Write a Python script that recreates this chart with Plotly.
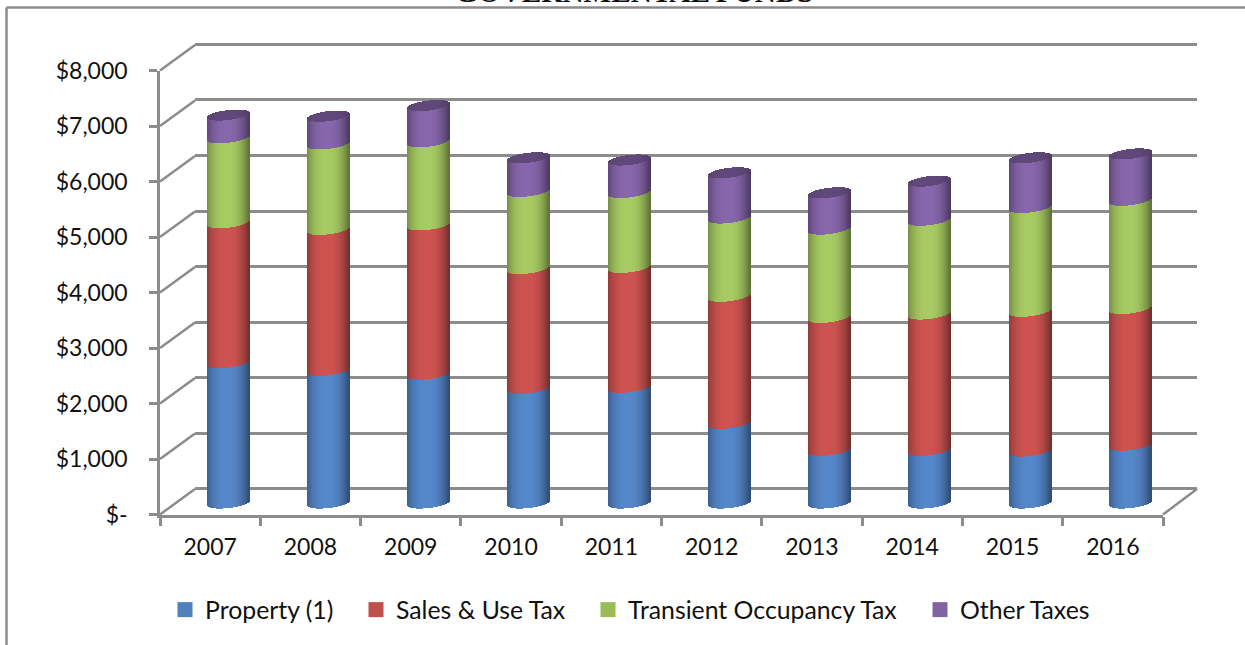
import math
import plotly.graph_objects as go

# ---- data ($ thousands) ----
years = ["2007", "2008", "2009", "2010", "2011", "2012", "2013", "2014", "2015", "2016"]
property_tax = [2530, 2390, 2320, 2065, 2085, 1435, 950, 950, 935, 1040]
sales_use_tax = [2520, 2540, 2690, 2160, 2160, 2290, 2395, 2455, 2520, 2465]
transient_tax = [1530, 1540, 1500, 1390, 1350, 1410, 1590, 1690, 1870, 1950]
other_taxes = [410, 500, 650, 605, 585, 815, 655, 705, 895, 835]
series_names = ["Property (1)", "Sales & Use Tax", "Transient Occupancy Tax", "Other Taxes"]
tick_values = [0, 1000, 2000, 3000, 4000, 5000, 6000, 7000, 8000]
tick_labels = ["$-", "$1,000", "$2,000", "$3,000", "$4,000", "$5,000", "$6,000", "$7,000", "$8,000"]
title_text = "GOVERNMENTAL FUNDS"

# ---- styling / layout ----
W, H = 1245, 645
FONT = "Lato"
FS = 23
LEGEND_FS = 24.8
GRID = "#8c8c8c"
LW = 2.5
series_colors = [(86, 136, 204), (207, 84, 81), (168, 204, 99), (136, 103, 172)]
legend_colors = ["#4f81bd", "#c0504d", "#9bbb59", "#8064a2"]
legend_text_x = [205, 396, 628, 960]
CAT_W = 100.25      # px per category
BAR_W = 42          # px cylinder width
PX_PER_UNIT = 55.49 / 1000
SAG = 5.0 / PX_PER_UNIT      # half-height of the ellipse, in value units
TILT = 2.4 / PX_PER_UNIT     # rise from centre to right edge, in value units
STRIPS = 42


def hx(px):
    return px / W


def vy(px):
    return 1 - px / H


def shade(rgb, u):
    if u < 0:
        f = 1 - 0.30 * abs(u) ** 2.6
    else:
        f = 1 - 0.44 * abs(u) ** 2.2
    return "rgb(%d,%d,%d)" % tuple(int(c * f) for c in rgb)


fig = go.Figure()

# back wall carries the gridlines
fig.add_trace(go.Scatter(x=[0], y=[0], xaxis="x", yaxis="y", mode="markers",
                         marker=dict(opacity=0), showlegend=False, hoverinfo="skip"))

# cylinders, each built from narrow vertical strips
series = [property_tax, sales_use_tax, transient_tax, other_taxes]
positions = list(range(len(years)))
strip_w = BAR_W / STRIPS / CAT_W
for k in range(STRIPS):
    u = -1 + (2 * k + 1) / STRIPS
    off = -BAR_W / 2 / CAT_W + k * strip_w
    front = TILT * u - SAG * math.sqrt(1 - u * u)
    back = TILT * u + SAG * math.sqrt(1 - u * u)
    cumulative = [0] * len(years)
    for s, vals in enumerate(series):
        fig.add_trace(go.Bar(
            x=positions, y=vals, base=[c + front for c in cumulative],
            width=strip_w * 1.3, offset=off, xaxis="x2", yaxis="y2",
            marker=dict(color=shade(series_colors[s], u), line=dict(width=0)),
            showlegend=False, hoverinfo="skip"))
        cumulative = [c + v for c, v in zip(cumulative, vals)]
    # top cap
    dark = tuple(int(c * 0.72) for c in series_colors[3])
    fig.add_trace(go.Bar(
        x=positions, y=[back - front] * len(years), base=[c + front for c in cumulative],
        width=strip_w * 1.3, offset=off, xaxis="x2", yaxis="y2",
        marker=dict(color=shade(dark, u * 0.6), line=dict(width=0)),
        showlegend=False, hoverinfo="skip"))

# front axes
fig.add_trace(go.Scatter(x=years, y=[0] * len(years), xaxis="x3", yaxis="y3", mode="markers",
                         marker=dict(opacity=0), showlegend=False, hoverinfo="skip"))

# legend entries, one placed legend each so the spacing can follow the picture
legend_layout = {}
for i, (name, col, tx) in enumerate(zip(series_names, legend_colors, legend_text_x)):
    key = "legend" if i == 0 else "legend%d" % (i + 1)
    fig.add_trace(go.Scatter(x=[None], y=[None], xaxis="x3", yaxis="y3", mode="markers", name=name,
                             legend=key, marker=dict(symbol="square", size=15, color=col)))
    legend_layout[key] = dict(orientation="h", x=hx(tx - 40), y=vy(610), xanchor="left", yanchor="middle",
                              bgcolor="rgba(0,0,0,0)", itemsizing="trace", font=dict(family=FONT, size=LEGEND_FS))

shapes = []
def seg(x0, y0, x1, y1):
    shapes.append(dict(type="line", xref="paper", yref="paper", layer="below",
                       x0=hx(x0), y0=vy(y0), x1=hx(x1), y1=vy(y1),
                       line=dict(color=GRID, width=LW)))

# outer frame
seg(6.5, 7.5, 1245, 7.5)
seg(6.5, 7.5, 6.5, 645)
# side-wall diagonals
for v in tick_values:
    seg(160, 514.5 - v * 0.0555, 195, 489 - v * 0.0555)
seg(1163, 514.5, 1197, 489)

axis_common = dict(showgrid=False, zeroline=False, showticklabels=False, ticks="")
fig.update_layout(
    width=W, height=H, margin=dict(l=0, r=0, t=0, b=0, pad=0, autoexpand=False), autosize=False,
    paper_bgcolor="white", plot_bgcolor="rgba(0,0,0,0)",
    barmode="overlay", bargap=0, shapes=shapes,
    font=dict(family=FONT, size=FS, color="#111111"),
    xaxis=dict(domain=[hx(195), hx(1197)], range=[0, 1], **axis_common),
    yaxis=dict(domain=[vy(491.2), vy(42.2)], range=[-40, 8040], tickvals=tick_values,
               showgrid=True, gridcolor=GRID, gridwidth=LW, zeroline=False, showticklabels=False, ticks=""),
    xaxis2=dict(domain=[hx(177.5), hx(1180)], range=[-0.5, 9.5], anchor="y2", **axis_common),
    yaxis2=dict(domain=[vy(514), vy(59)], range=[-198, 8000], anchor="x2", **axis_common),
    xaxis3=dict(domain=[hx(160), hx(1163)], type="category", categoryorder="array", categoryarray=years,
                range=[-0.5, 9.5], anchor="y3", tickson="boundaries", ticks="outside", ticklen=9, tickwidth=LW,
                tickcolor=GRID, showline=True, linecolor=GRID, linewidth=LW, showgrid=False, zeroline=False,
                ticklabelstandoff=10),
    yaxis3=dict(domain=[vy(514.5), vy(70.5)], range=[0, 8000], anchor="x3", tickvals=tick_values,
                ticktext=tick_labels, ticks="outside", ticklen=8, tickwidth=LW, tickcolor=GRID, showline=True,
                linecolor=GRID, linewidth=LW, showgrid=False, zeroline=False, ticklabelstandoff=17),
    annotations=[dict(text="<b>" + title_text + "</b>", xref="paper", yref="paper", x=hx(633.5), y=vy(10),
                      xanchor="center", yanchor="bottom", showarrow=False,
                      font=dict(family="Liberation Serif", size=29.3, color="#111111"))],
    **legend_layout,
)
fig.write_html("out.html", config=dict(displayModeBar=False),
               post_script="document.body.style.margin='0';document.documentElement.style.overflow='hidden';")
